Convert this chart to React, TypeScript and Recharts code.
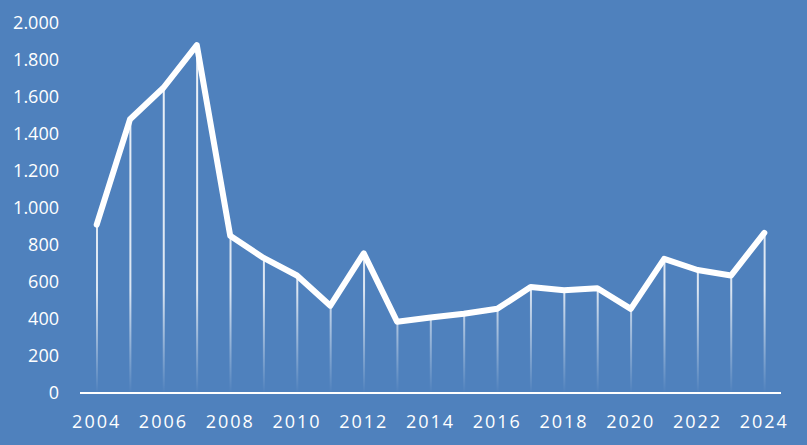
import React from 'react';
import { ComposedChart, Line, Bar, XAxis, YAxis } from 'recharts';

const years = [
  '2004', '2005', '2006', '2007', '2008', '2009', '2010', '2011', '2012', '2013', '2014',
  '2015', '2016', '2017', '2018', '2019', '2020', '2021', '2022', '2023', '2024',
];
const values = [
  910, 1480, 1650, 1880, 850, 730, 635, 472, 755, 385, 408,
  428, 455, 573, 555, 566, 455, 725, 665, 635, 865,
];
const yTicks = [0, 200, 400, 600, 800, 1000, 1200, 1400, 1600, 1800, 2000];

const data = years.map((year, i) => ({ year, value: values[i] }));

const formatThousands = (v: number) =>
  String(v).replace(/\B(?=(\d{3})+(?!\d))/g, '.');

const BG = '#4F81BD';
const FONT = "'Open Sans', 'Liberation Sans', sans-serif";

export default function App() {
  return (
    <div style={{ position: 'fixed', left: 0, top: 0, width: 807, height: 445, background: BG }}>
      <ComposedChart
        width={807}
        height={445}
        data={data}
        margin={{ top: 23, right: 26, left: 0, bottom: 22 }}
        barCategoryGap={0}
      >
        <defs>
          <linearGradient id="dropFade" gradientUnits="userSpaceOnUse" x1="0" y1="23" x2="0" y2="393">
            <stop offset="0" stopColor="#FFFFFF" stopOpacity={0.9} />
            <stop offset="0.72" stopColor="#FFFFFF" stopOpacity={0.8} />
            <stop offset="1" stopColor="#FFFFFF" stopOpacity={0} />
          </linearGradient>
        </defs>
        <XAxis
          dataKey="year"
          interval={1}
          height={30}
          axisLine={{ stroke: '#FFFFFF', strokeWidth: 2 }}
          tickLine={false}
          tickSize={0}
          tickMargin={22}
          tick={{ fill: '#FFFFFF', fontSize: 18, fontFamily: FONT, letterSpacing: 2 }}
        />
        <YAxis
          type="number"
          domain={[0, 2000]}
          ticks={yTicks}
          interval={0}
          width={80}
          axisLine={false}
          tickLine={false}
          tickSize={0}
          tickMargin={21}
          tickFormatter={formatThousands}
          tick={{ fill: '#FFFFFF', fontSize: 18, fontFamily: FONT }}
        />
        <Bar dataKey="value" barSize={2} fill="url(#dropFade)" isAnimationActive={false} />
        <Line
          type="linear"
          dataKey="value"
          stroke="#FFFFFF"
          strokeWidth={6}
          strokeLinecap="round"
          strokeLinejoin="round"
          dot={false}
          activeDot={false}
          isAnimationActive={false}
        />
      </ComposedChart>
    </div>
  );
}
